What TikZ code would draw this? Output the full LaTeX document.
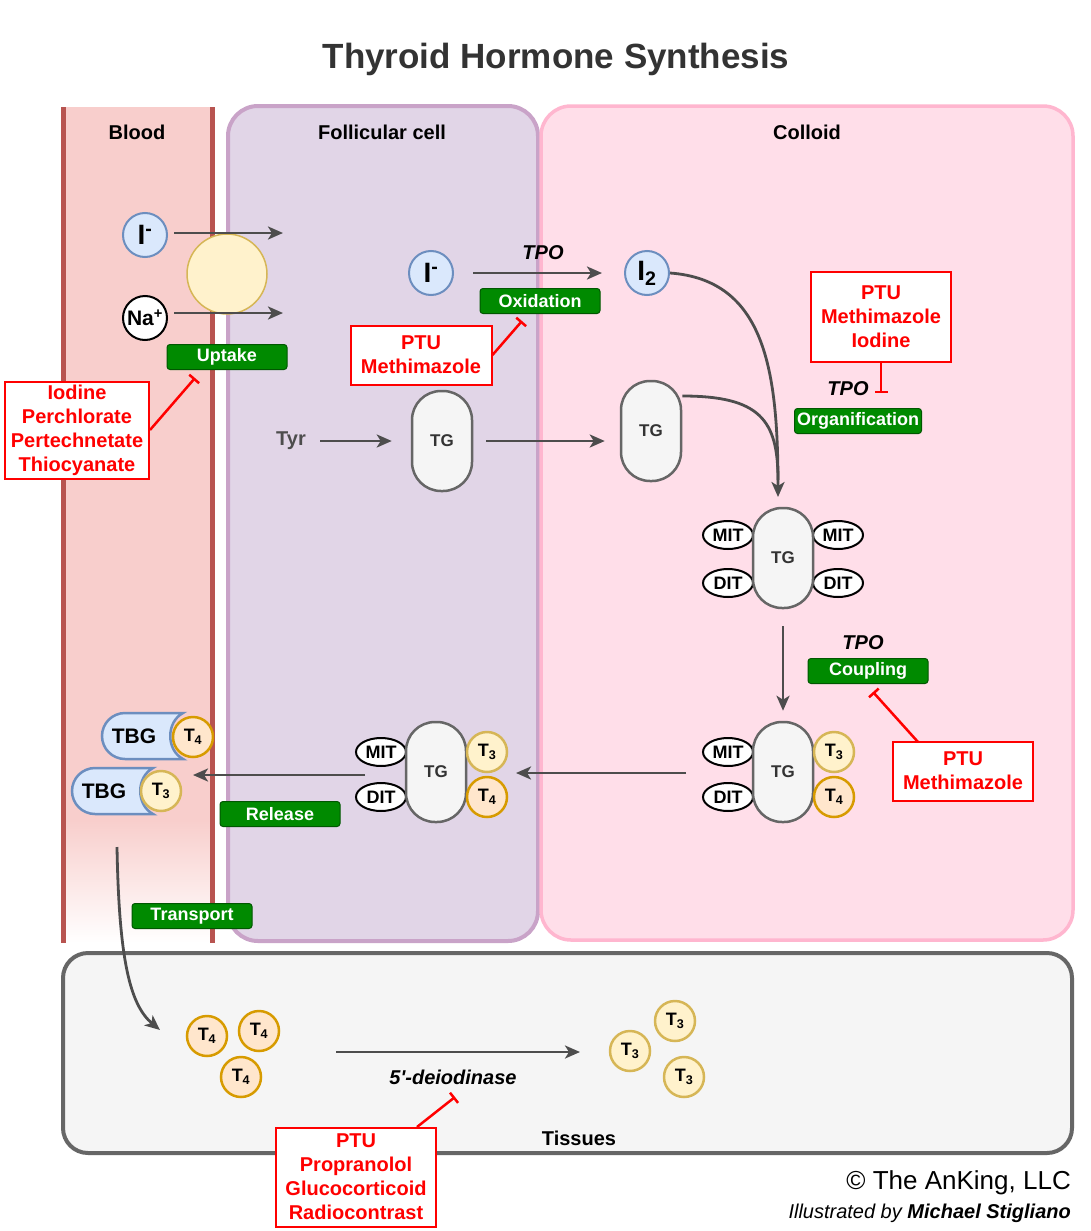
\documentclass[tikz,border=0pt]{standalone}
\usepackage{fontspec}
\setmainfont{Liberation Sans}
\newfontfamily\plainsans{Liberation Sans}
\usetikzlibrary{arrows.meta,shapes.geometric,calc}
\definecolor{agray}{HTML}{4D4D4D}
\definecolor{bluef}{HTML}{DAE8FC}
\definecolor{blues}{HTML}{6C8EBF}
\definecolor{yelf}{HTML}{FFF2CC}
\definecolor{yels}{HTML}{D6B656}
\definecolor{oraf}{HTML}{FFE6CC}
\definecolor{oras}{HTML}{D79B00}
\definecolor{grayf}{HTML}{F5F5F5}
\definecolor{grays}{HTML}{666666}
\definecolor{greenf}{HTML}{008A00}
\definecolor{greens}{HTML}{005700}
\definecolor{bloodf}{HTML}{F8CECC}
\definecolor{bloods}{HTML}{B85450}
\definecolor{follf}{HTML}{E1D5E7}
\definecolor{folls}{HTML}{C9A3C8}
\definecolor{collf}{HTML}{FFDEE9}
\definecolor{colls}{HTML}{FFB6CF}
\definecolor{titlec}{HTML}{333333}
\tikzset{
  arr/.style={draw=agray, line width=2.8pt, -{Stealth[length=15pt,width=13pt,inset=4pt]}},
  inh/.style={draw=red, line width=2.5pt, -{Bar[width=13pt]}},
  ion/.style={circle, minimum size=44pt, inner sep=0pt, line width=2pt, font=\fontsize{28}{30}\selectfont\bfseries},
  ionI/.style={ion, fill=bluef, draw=blues},
  tc/.style={circle, minimum size=40pt, inner sep=0pt, line width=2.5pt, font=\fontsize{18}{20}\selectfont\bfseries},
  tthree/.style={tc, fill=yelf, draw=yels},
  tfour/.style={tc, fill=oraf, draw=oras},
  tg/.style={rectangle, rounded corners=29pt, minimum width=60pt, minimum height=100pt, fill=grayf, draw=grays, line width=2.5pt, text=titlec, font=\fontsize{17}{20}\selectfont\bfseries},
  res/.style={ellipse, draw=black, fill=white, line width=2pt, minimum width=50pt, minimum height=28pt, inner sep=0pt, font=\fontsize{18}{20}\selectfont\bfseries},
  proc/.style={rectangle, rounded corners=3pt, fill=greenf, draw=greens, line width=1pt, minimum width=120pt, minimum height=25pt, inner sep=0pt, text=white, font=\fontsize{18}{20}\selectfont\bfseries},
  drug/.style={rectangle, draw=red, line width=2pt, fill=white, text=red, align=center, inner sep=0pt, font=\fontsize{20}{24}\selectfont\bfseries},
  lbl/.style={font=\fontsize{20}{24}\selectfont\bfseries, inner sep=0pt},
  enz/.style={font=\fontsize{20}{24}\selectfont\bfseries\itshape, inner sep=0pt},
  tbgshape/.style={fill=bluef, draw=blues, line width=2.5pt},
}
\begin{document}
\begin{tikzpicture}[x=1pt,y=-1pt]
\useasboundingbox (0,0) rectangle (1091,1231);
\fill[white] (0,0) rectangle (1091,1231);

% title
\node[font=\fontsize{35}{40}\selectfont\bfseries, text=titlec] (title) at (556,59) {Thyroid Hormone Synthesis};

% regions
\filldraw[fill=follf, draw=folls, line width=4pt, rounded corners=30pt] (228,106) rectangle (538,941);
\filldraw[fill=collf, draw=colls, line width=3.5pt, rounded corners=30pt] (541,106) rectangle (1073,940);
\filldraw[fill=grayf, draw=grays, line width=4pt, rounded corners=25pt] (63,953) rectangle (1072,1153);
\fill[bloodf] (63,107) rectangle (212,820);
\shade[top color=bloodf, bottom color=white] (63,820) rectangle (212,943);
\draw[bloods, line width=5pt] (63,107) -- (63,943);
\draw[bloods, line width=5pt] (212,107) -- (212,943);

\node[lbl] (lblood) at (137,132) {Blood};
\node[lbl] (lfoll) at (382,132) {Follicular cell};
\node[lbl] (lcoll) at (807,132) {Colloid};
\node[lbl] (ltiss) at (579,1138) {Tissues};

% uptake
\node[circle, minimum size=80pt, fill=yelf, draw=yels, line width=1.5pt] (nis) at (227,274) {};
\node[ionI] (iblood) at (145,235) {I\textsuperscript{-}};
\node[ion, fill=white, draw=black, font=\fontsize{21}{24}\selectfont\bfseries] (na) at (145,318) {Na\textsuperscript{+}};
\coordinate (iend) at (283,233);
\coordinate (naend) at (283,313);
\draw[arr, shorten <=6pt] (iblood.east |- iend) -- (iend);
\draw[arr, shorten <=6pt] (na.east |- naend) -- (naend);
\node[proc] (uptake) at (227,357) {Uptake};
\node[drug, minimum width=144pt, minimum height=97pt] (drugU) at (77,430) {Iodine\\Perchlorate\\Pertechnetate\\Thiocyanate};
\coordinate (inhU) at (195,378);
\draw[inh] (drugU.east) -- (inhU);

% oxidation
\node[ionI] (icell) at (431,273) {I\textsuperscript{-}};
\node[ionI] (i2) at (647,273) {I\textsubscript{2}};
\draw[arr, shorten <=19pt, shorten >=22pt] (icell) -- (i2);
\node[enz] (tpo1) at (543,253) {TPO};
\node[proc] (oxid) at (540,301) {Oxidation};
\node[drug, minimum width=141pt, minimum height=59pt] (drugO) at (421,355) {PTU\\Methimazole};
\coordinate (inhO) at (522,321);
\draw[inh] (drugO.east) -- (inhO);

% tyrosine / TG
\node[lbl, text=agray] (tyr) at (291,441) {Tyr};
\node[tg] (tgF) at (442,441) {TG};
\node[tg] (tgC1) at (651,431) {TG};
\draw[arr, shorten <=14pt, shorten >=19pt] (tyr) -- (tgF);
\draw[arr, shorten <=13pt, shorten >=15pt] (tgF.east) -- (tgF.east -| tgC1.west);

% organification
\node[res] (mit1) at (728,535) {MIT};
\node[res] (mit2) at (838,535) {MIT};
\node[res] (dit1) at (728,583) {DIT};
\node[res] (dit2) at (838,583) {DIT};
\node[tg] (tgC2) at (783,558) {TG};
\coordinate (join) at (778,497);
\draw[agray, line width=2.8pt] (tgC1.east |- 0,396) .. controls (760,396) and (778,420) .. (778,480);
\draw[arr] (i2.east) .. controls (765,280) and (778,370) .. (join);
\node[drug, minimum width=140pt, minimum height=90pt] (drugOrg) at (881,317) {PTU\\Methimazole\\Iodine};
\node[enz] (tpo2) at (848,389) {TPO};
\node[proc, minimum width=127pt] (organ) at (858,421) {Organification};
\coordinate (inhOrg) at (881,393);
\draw[inh] (drugOrg.south) -- (inhOrg);

% coupling
\node[res] (mit3) at (728,752) {MIT};
\node[res] (dit3) at (728,797) {DIT};
\node[tg] (tgC3) at (783,772) {TG};
\node[tthree] (t3c) at (834,752) {T\textsubscript{3}};
\node[tfour] (t4c) at (834,797) {T\textsubscript{4}};
\draw[arr, shorten <=17pt, shorten >=10pt] (tgC2) -- (tgC3);
\node[enz] (tpo3) at (863,643) {TPO};
\node[proc] (coupl) at (868,671) {Coupling};
\node[drug, minimum width=140pt, minimum height=59pt] (drugC) at (963,771) {PTU\\Methimazole};
\coordinate (inhCs) at (918,742);
\coordinate (inhC) at (873,692);
\draw[inh] (inhCs) -- (inhC);

% release
\node[res] (mit4) at (381,752) {MIT};
\node[res] (dit4) at (381,797) {DIT};
\node[tg] (tgF2) at (436,772) {TG};
\node[tthree] (t3f) at (487,752) {T\textsubscript{3}};
\node[tfour] (t4f) at (487,797) {T\textsubscript{4}};
\coordinate (relA) at (686,773);
\coordinate (relB) at (516,773);
\draw[arr] (relA) -- (relB);
\coordinate (relC) at (365,775);
\coordinate (relD) at (193,775);
\draw[arr] (relC) -- (relD);
\node[proc] (release) at (280,814) {Release};

% TBG
\filldraw[tbgshape] (183,713) [rounded corners=23pt] -- (102,713) -- (102,759) [sharp corners] -- (183,759) .. controls (166,750) and (166,722) .. cycle;
\node[font=\fontsize{21}{24}\selectfont\bfseries] (tbg1) at (134,736) {TBG};
\node[tfour] (t4b) at (193,737) {T\textsubscript{4}};
\filldraw[tbgshape] (153,768) [rounded corners=23pt] -- (72,768) -- (72,814) [sharp corners] -- (153,814) .. controls (136,805) and (136,777) .. cycle;
\node[font=\fontsize{21}{24}\selectfont\bfseries] (tbg2) at (104,791) {TBG};
\node[tthree] (t3b) at (161,791) {T\textsubscript{3}};

% transport
\node[proc] (transp) at (192,916) {Transport};
\coordinate (trA) at (117,847);
\coordinate (trB) at (160,1030);
\draw[arr] (trA) .. controls (119,960) and (130,1005) .. (trB);

% tissues
\node[tfour] (t4a) at (207,1036) {T\textsubscript{4}};
\node[tfour] (t4bb) at (259,1031) {T\textsubscript{4}};
\node[tfour] (t4cc) at (241,1077) {T\textsubscript{4}};
\node[tthree] (t3a) at (675,1021) {T\textsubscript{3}};
\node[tthree] (t3bb) at (630,1051) {T\textsubscript{3}};
\node[tthree] (t3cc) at (684,1077) {T\textsubscript{3}};
\coordinate (deA) at (336,1052);
\coordinate (deB) at (580,1052);
\draw[arr] (deA) -- (deB);
\node[enz] (deio) at (453,1077) {\plainsans\bfseries\itshape 5'-deiodinase};
\node[drug, minimum width=160pt, minimum height=99pt] (drugD) at (356,1177) {PTU\\Propranolol\\Glucocorticoid\\Radiocontrast};
\coordinate (inhDs) at (417,1127);
\coordinate (inhD) at (455,1097);
\draw[inh] (inhDs) -- (inhD);

% credits
\node[anchor=east, inner sep=0pt, font=\fontsize{26}{29}\selectfont] (cr1) at (1071,1183) {© The AnKing, LLC};
\node[anchor=east, inner sep=0pt, font=\fontsize{20}{23}\selectfont\itshape] (cr2) at (1071,1213) {Illustrated by \textbf{Michael Stigliano}};
\end{tikzpicture}
\end{document}
